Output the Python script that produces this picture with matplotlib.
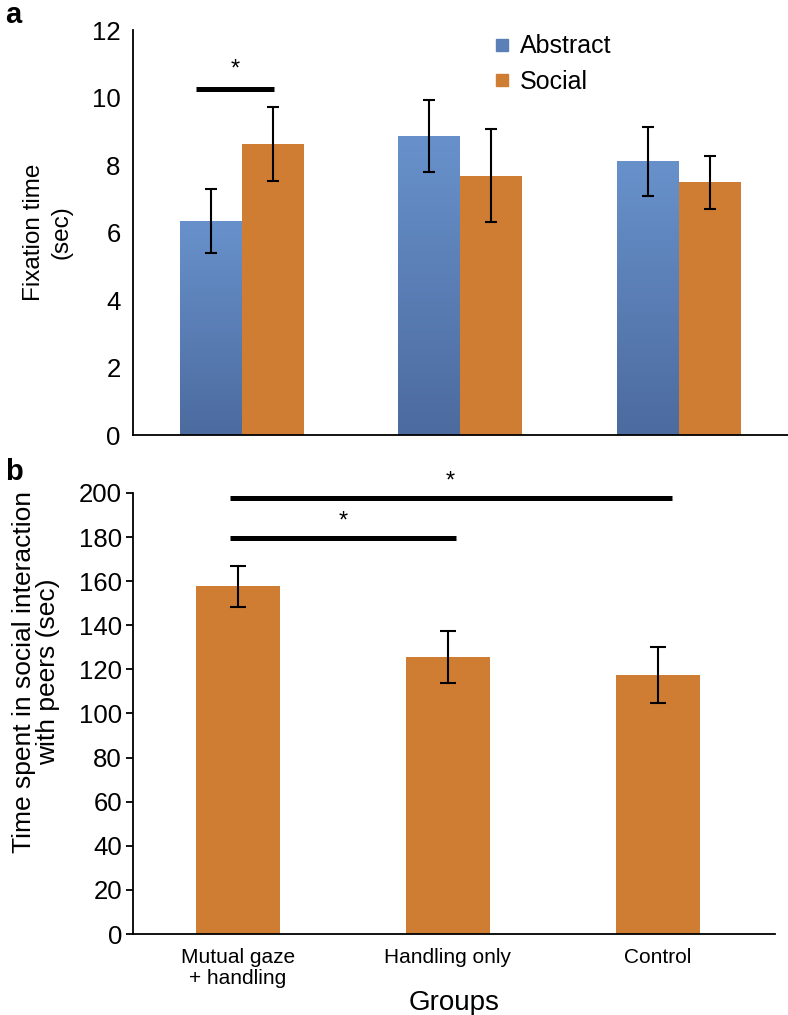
import numpy as np
import matplotlib
matplotlib.use("Agg")
import matplotlib.pyplot as plt
from matplotlib.colors import LinearSegmentedColormap
from matplotlib.lines import Line2D

plt.rcParams['font.family'] = ['Liberation Sans', 'DejaVu Sans']

# panel a data
groups_a = ['Mutual gaze + handling', 'Handling only', 'Control']
abstract = [6.34, 8.87, 8.11]
abstract_err = [0.96, 1.07, 1.03]
social = [8.62, 7.69, 7.49]
social_err = [1.1, 1.38, 0.78]

# panel b data
groups_b = ['Mutual gaze\n+ handling', 'Handling only', 'Control']
interaction = [157.7, 125.5, 117.3]
interaction_err = [9.3, 11.8, 12.7]

blue = '#5b80b8'
orange = '#cf7d33'
blue_cmap = LinearSegmentedColormap.from_list('bl', ['#4c6b9f', '#6891cb'])

fig = plt.figure(figsize=(7.88, 10.15), dpi=100)

# ---- panel a ----
ax1 = fig.add_axes([0.1688, 0.5714, 0.831, 0.399])
x = np.arange(len(groups_a))
w = 0.284
bars_a = ax1.bar(x - w / 2, abstract, w, color=blue, label='Abstract', zorder=2)
ax1.bar(x + w / 2, social, w, color=orange, label='Social', zorder=2)

grad = np.linspace(0, 1, 256).reshape(-1, 1)
for b in bars_a:
    x0, h = b.get_x(), b.get_height()
    im = ax1.imshow(grad, extent=[x0, x0 + b.get_width(), 0, h], origin='lower',
                    aspect='auto', cmap=blue_cmap, zorder=2.5)
    im.set_clip_path(b)

ax1.errorbar(x - w / 2, abstract, yerr=abstract_err, fmt='none', ecolor='black',
             elinewidth=1.5, capsize=4.5, capthick=1.5, zorder=3)
ax1.errorbar(x + w / 2, social, yerr=social_err, fmt='none', ecolor='black',
             elinewidth=1.5, capsize=4.5, capthick=1.5, zorder=3)

ax1.set_xlim(-0.5, 2.5)
ax1.set_ylim(0, 12)
ax1.set_yticks(range(0, 13, 2))
ax1.set_xticks([])
ax1.tick_params(axis='y', length=0, labelsize=18.5, pad=9)
for s in ['top', 'right']:
    ax1.spines[s].set_visible(False)
for s in ['left', 'bottom']:
    ax1.spines[s].set_linewidth(1.3)
ax1.set_ylabel('Fixation time\n(sec)', fontsize=17.5, linespacing=1.3, labelpad=14)

# significance
ax1.plot([-0.21, 0.147], [10.25, 10.25], color='black', lw=3.6, solid_capstyle='butt')
ax1.text(-0.03, 10.5, '*', ha='center', va='bottom', fontsize=17)

handles = [Line2D([], [], marker='s', ls='none', color=blue, markersize=8),
           Line2D([], [], marker='s', ls='none', color=orange, markersize=8)]
ax1.legend(handles, ['Abstract', 'Social'], loc='upper left',
           bbox_to_anchor=(0.51, 1.045), frameon=False, fontsize=18,
           handletextpad=0.2, handlelength=1.0, labelspacing=0.45)

fig.text(0.006, 0.999, 'a', fontsize=21, fontweight='bold', va='top')

# ---- panel b ----
ax2 = fig.add_axes([0.1688, 0.0798, 0.815, 0.4345])
xb = np.arange(len(groups_b))
ax2.bar(xb, interaction, 0.4, color=orange, zorder=2)
ax2.errorbar(xb, interaction, yerr=interaction_err, fmt='none', ecolor='black',
             elinewidth=1.5, capsize=5.5, capthick=1.5, zorder=3)
ax2.set_xlim(-0.5, 2.56)
ax2.set_ylim(0, 200)
ax2.set_yticks(range(0, 201, 20))
ax2.set_xticks(xb)
ax2.set_xticklabels(groups_b, fontsize=15, linespacing=1.15)
ax2.tick_params(axis='x', length=0, pad=10)
ax2.tick_params(axis='y', direction='out', length=5, width=1.3, labelsize=18.5, pad=3)
for s in ['top', 'right']:
    ax2.spines[s].set_visible(False)
for s in ['left', 'bottom']:
    ax2.spines[s].set_linewidth(1.3)
ax2.set_xlabel('Groups', fontsize=20, labelpad=1)

ax2.plot([-0.04, 2.07], [197.7, 197.7], color='black', lw=3.6,
         solid_capstyle='butt', clip_on=False)
ax2.text(1.01, 200, '*', ha='center', va='bottom', fontsize=17)
ax2.plot([-0.04, 1.04], [179.5, 179.5], color='black', lw=3.6, solid_capstyle='butt')
ax2.text(0.5, 182, '*', ha='center', va='bottom', fontsize=17)

fig.text(0.046, 0.338, 'Time spent in social interaction\nwith peers (sec)',
         rotation=90, ha='center', va='center', fontsize=19, linespacing=1.0)

fig.text(0.006, 0.549, 'b', fontsize=21, fontweight='bold', va='top')

fig.savefig('out.png', dpi=100)
